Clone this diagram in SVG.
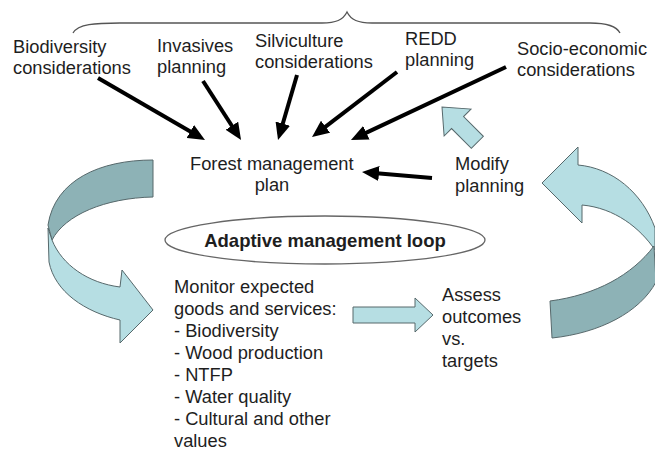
<svg xmlns="http://www.w3.org/2000/svg" width="655" height="450" viewBox="0 0 655 450">
<style>
text{font-family:"Liberation Sans",Arial,sans-serif;fill:#1e1e1e;font-size:18.3px}
.b{font-weight:bold;font-size:18.5px}
.arr{stroke:#000;stroke-width:4;fill:none;marker-end:url(#ah)}
.lt{fill:#b6dee3;stroke:#56686b;stroke-width:1}
.dk{fill:#8db2b6;stroke:#56686b;stroke-width:1}
</style>
<defs>
<marker id="ah" markerUnits="userSpaceOnUse" markerWidth="17" markerHeight="15" viewBox="0 0 17 15" refX="11" refY="7.5" orient="auto">
<path d="M0,0 L17,7.5 L0,15 Z" fill="#000"/>
</marker>
</defs>
<rect width="655" height="450" fill="#fff"/>
<g id="brace">
<path d="M73,33 C78,24 95,23 120,23 L322,23 C336,23 343,20 347,12 C351,20 358,23 372,23 L590,23 C609,23 617,27 620,33" fill="none" stroke="#555" stroke-width="1.3"/>
</g>
<g id="biodiversity"><text x="13" y="53">Biodiversity</text><text x="13" y="74">considerations</text></g>
<g id="invasives"><text x="157" y="52">Invasives</text><text x="157" y="73">planning</text></g>
<g id="silviculture"><text x="255" y="47">Silviculture</text><text x="255" y="68">considerations</text></g>
<g id="redd"><text x="405" y="45">REDD</text><text x="405" y="66">planning</text></g>
<g id="socio"><text x="517" y="55">Socio-economic</text><text x="517" y="76">considerations</text></g>
<g id="forest"><text x="190" y="170">Forest management</text><text x="272" y="191" text-anchor="middle">plan</text></g>
<g id="modify"><text x="455" y="170">Modify</text><text x="455" y="192">planning</text></g>
<g id="loop">
<ellipse cx="325" cy="240" rx="160" ry="24" fill="#fff" stroke="#666" stroke-width="1.3"/>
<text class="b" x="325" y="246.5" text-anchor="middle">Adaptive management loop</text>
</g>
<g id="monitor">
<text x="174" y="293">Monitor expected</text>
<text x="174" y="315">goods and services:</text>
<text x="174" y="337">- Biodiversity</text>
<text x="174" y="359">- Wood production</text>
<text x="174" y="381">- NTFP</text>
<text x="174" y="403">- Water quality</text>
<text x="174" y="425">- Cultural and other</text>
<text x="174" y="447">values</text>
</g>
<g id="assess">
<text x="442" y="301">Assess</text>
<text x="442" y="323">outcomes</text>
<text x="442" y="345">vs.</text>
<text x="442" y="367">targets</text>
</g>
<g id="connectors">
<line class="arr" x1="98" y1="78" x2="199.8" y2="137"/>
<line class="arr" x1="203" y1="81" x2="237.8" y2="135"/>
<line class="arr" x1="297" y1="75" x2="279.7" y2="134.2"/>
<line class="arr" x1="397" y1="72" x2="316.8" y2="133.4"/>
<line class="arr" x1="506" y1="67" x2="356.4" y2="137.4"/>
<line class="arr" x1="432" y1="178" x2="368" y2="172.5"/>
<path class="lt" d="M353,307 L415,307 L415,298 L433,315 L415,332 L415,323 L353,323 Z"/>
<path class="lt" transform="translate(442,107) rotate(-135)" d="M0,0 L-22,-19 L-22,-8.5 L-50,-8.5 L-50,8.5 L-22,8.5 L-22,19 Z"/>
<path class="dk" d="M153,160 C100,160 55,180 48,225 L52,240 C65,215 105,198 153,197 Z"/>
<path class="lt" d="M52,240 C62,265 88,283 120,287 L122,270 L153,310 L120,343 L120,320 C85,312 55,292 49,262 L48,228 Z"/>
<path class="lt" d="M542,183 L578,147 L578,165 C612,168 642,192 655,228 L655,250 C640,228 615,208 582,205 L582,223 Z"/>
<path class="dk" d="M654,246 C632,275 596,295 550,301 L552,338 C600,333 640,312 656,282 Z"/>
</g>
</svg>
